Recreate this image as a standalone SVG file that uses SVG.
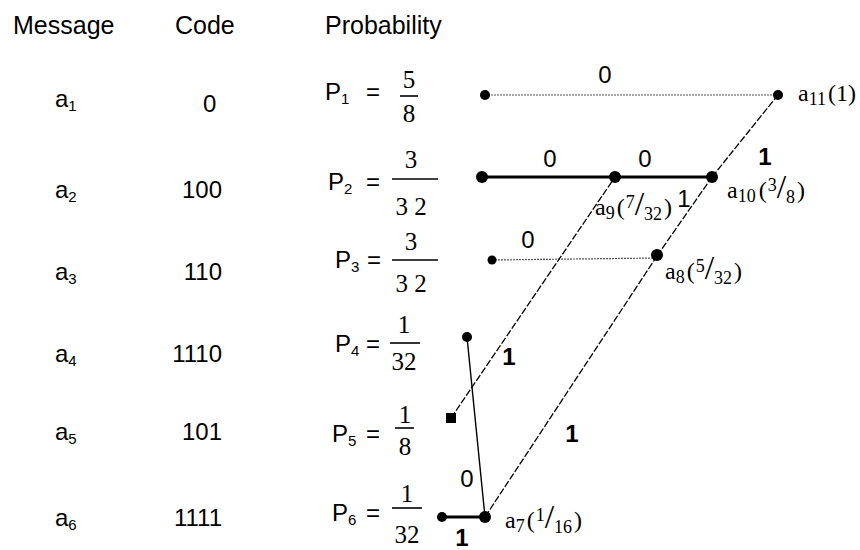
<svg xmlns="http://www.w3.org/2000/svg" width="860" height="550" viewBox="0 0 860 550">
<style>
.sans{font-family:"Liberation Sans",Arial,sans-serif;fill:#000}
.serif{font-family:"Liberation Serif","Times New Roman",serif;fill:#000}
.hd{font-size:25px}
.cell{font-size:24px}
.sub{font-size:15px}
.frac{font-size:25px;text-anchor:middle}
.bar{stroke:#000;stroke-width:1.6}
.lbl{font-size:24px;text-anchor:middle}
.b{font-weight:bold}
.nl{font-size:24px}
.small{font-size:18px}
.sl{font-size:34px}
.dot{fill:#000}
.dotted{stroke:#555;stroke-width:1.2;stroke-dasharray:2 1;fill:none}
.thick{stroke:#000;stroke-width:3;fill:none}
.thin{stroke:#000;stroke-width:1.4;fill:none}
.dash{stroke:#000;stroke-width:1.3;stroke-dasharray:7 2;fill:none}
</style>
<rect width="860" height="550" fill="#fff"/>

<g id="header" class="sans hd">
<text x="13" y="34">Message</text>
<text x="175" y="34">Code</text>
<text x="325" y="34">Probability</text>
</g>

<g id="row1">
<text class="sans cell" x="55" y="107">a<tspan class="sub" dy="4">1</tspan></text>
<text class="sans cell" x="203" y="112">0</text>
<text class="sans cell" x="325" y="100">P<tspan class="sub" dy="4">1</tspan></text>
<text class="sans cell" x="366" y="100">=</text>
<text class="serif frac" x="409" y="88">5</text>
<line class="bar" x1="400" y1="96" x2="418" y2="96"/>
<text class="serif frac" x="409" y="122">8</text>
</g>

<g id="row2">
<text class="sans cell" x="55" y="198">a<tspan class="sub" dy="4">2</tspan></text>
<text class="sans cell" x="222" y="198" text-anchor="end">100</text>
<text class="sans cell" x="328" y="190">P<tspan class="sub" dy="4">2</tspan></text>
<text class="sans cell" x="366" y="190">=</text>
<text class="serif frac" x="411" y="168">3</text>
<line class="bar" x1="392" y1="179" x2="438" y2="179"/>
<text class="serif frac" x="411" y="215">3 2</text>
</g>

<g id="row3">
<text class="sans cell" x="55" y="280">a<tspan class="sub" dy="4">3</tspan></text>
<text class="sans cell" x="222" y="280" text-anchor="end">110</text>
<text class="sans cell" x="335" y="268">P<tspan class="sub" dy="4">3</tspan></text>
<text class="sans cell" x="367" y="268">=</text>
<text class="serif frac" x="411" y="250">3</text>
<line class="bar" x1="392" y1="260" x2="438" y2="260"/>
<text class="serif frac" x="411" y="292">3 2</text>
</g>

<g id="row4">
<text class="sans cell" x="55" y="362">a<tspan class="sub" dy="4">4</tspan></text>
<text class="sans cell" x="222" y="362" text-anchor="end">1110</text>
<text class="sans cell" x="335" y="352">P<tspan class="sub" dy="4">4</tspan></text>
<text class="sans cell" x="366" y="352">=</text>
<text class="serif frac" x="404" y="333">1</text>
<line class="bar" x1="390" y1="343" x2="420" y2="343"/>
<text class="serif frac" x="404" y="370">32</text>
</g>

<g id="row5">
<text class="sans cell" x="55" y="440">a<tspan class="sub" dy="4">5</tspan></text>
<text class="sans cell" x="222" y="440" text-anchor="end">101</text>
<text class="sans cell" x="332" y="442">P<tspan class="sub" dy="4">5</tspan></text>
<text class="sans cell" x="366" y="442">=</text>
<text class="serif frac" x="405" y="423">1</text>
<line class="bar" x1="395" y1="428" x2="414" y2="428"/>
<text class="serif frac" x="405" y="455">8</text>
</g>

<g id="row6">
<text class="sans cell" x="55" y="526">a<tspan class="sub" dy="4">6</tspan></text>
<text class="sans cell" x="222" y="526" text-anchor="end">1111</text>
<text class="sans cell" x="332" y="521">P<tspan class="sub" dy="4">6</tspan></text>
<text class="sans cell" x="366" y="521">=</text>
<text class="serif frac" x="407" y="502">1</text>
<line class="bar" x1="392" y1="508" x2="422" y2="508"/>
<text class="serif frac" x="407" y="543">32</text>
</g>

<g id="connectors">
<line class="dotted" x1="485" y1="95" x2="778" y2="95"/>
<line class="thick" x1="482" y1="177" x2="712" y2="177"/>
<line class="dotted" x1="492" y1="260" x2="657" y2="258"/>
<line class="thin" x1="467" y1="337" x2="485" y2="517"/>
<line class="thick" x1="442" y1="517" x2="485" y2="517"/>
<line class="dash" x1="451" y1="418" x2="615" y2="177"/>
<line class="dash" x1="485" y1="517" x2="657" y2="256"/>
<line class="dash" x1="657" y1="256" x2="712" y2="177"/>
<line class="dash" x1="712" y1="177" x2="778" y2="95"/>
<g class="sans lbl">
<text x="605" y="83">0</text>
<text x="550" y="167">0</text>
<text x="645" y="167">0</text>
<text class="b" x="765" y="165">1</text>
<text x="528" y="248">0</text>
<text class="b" x="509" y="365">1</text>
<text class="b" x="572" y="442">1</text>
<text x="467" y="487">0</text>
<text class="b" x="462" y="546">1</text>
<text x="684" y="207">1</text>
</g>
</g>

<g id="n-p1"><circle class="dot" cx="485" cy="95" r="5"/></g>
<g id="n-p2"><circle class="dot" cx="482" cy="177" r="6"/></g>
<g id="n-p3"><circle class="dot" cx="492" cy="260" r="4.5"/></g>
<g id="n-p4"><circle class="dot" cx="467" cy="337" r="5"/></g>
<g id="n-p5"><rect class="dot" x="446" y="413" width="10" height="10"/></g>
<g id="n-p6"><circle class="dot" cx="442" cy="517" r="5"/></g>

<g id="n-a11">
<circle class="dot" cx="778" cy="95" r="5"/>
<text class="serif nl" x="798" y="101">a<tspan class="small" dy="4">11</tspan><tspan dy="-4" dx="2">(1)</tspan></text>
</g>
<g id="n-a10">
<circle class="dot" cx="712" cy="177" r="6"/>
<text class="serif nl" x="727" y="198">a<tspan class="small" dy="4">10</tspan><tspan dy="-4" dx="3">(</tspan><tspan class="small" dy="-7" dx="1">3</tspan><tspan class="sl" dy="7">/</tspan><tspan class="small" dy="5">8</tspan><tspan dy="-5" dx="2">)</tspan></text>
</g>
<g id="n-a9">
<circle class="dot" cx="615" cy="177" r="6"/>
<text class="serif nl" x="595" y="215">a<tspan class="small" dy="4">9</tspan><tspan dy="-4" dx="2">(</tspan><tspan class="small" dy="-7" dx="1">7</tspan><tspan class="sl" dy="7">/</tspan><tspan class="small" dy="5">32</tspan><tspan dy="-5" dx="2">)</tspan></text>
</g>
<g id="n-a8">
<circle class="dot" cx="657" cy="255" r="6"/>
<text class="serif nl" x="665" y="279">a<tspan class="small" dy="4">8</tspan><tspan dy="-4" dx="2">(</tspan><tspan class="small" dy="-7" dx="1">5</tspan><tspan class="sl" dy="7">/</tspan><tspan class="small" dy="5">32</tspan><tspan dy="-5" dx="2">)</tspan></text>
</g>
<g id="n-a7">
<circle class="dot" cx="485" cy="517" r="6"/>
<text class="serif nl" x="505" y="528">a<tspan class="small" dy="4">7</tspan><tspan dy="-4" dx="2">(</tspan><tspan class="small" dy="-7" dx="1">1</tspan><tspan class="sl" dy="7">/</tspan><tspan class="small" dy="5">16</tspan><tspan dy="-5" dx="2">)</tspan></text>
</g>
</svg>
